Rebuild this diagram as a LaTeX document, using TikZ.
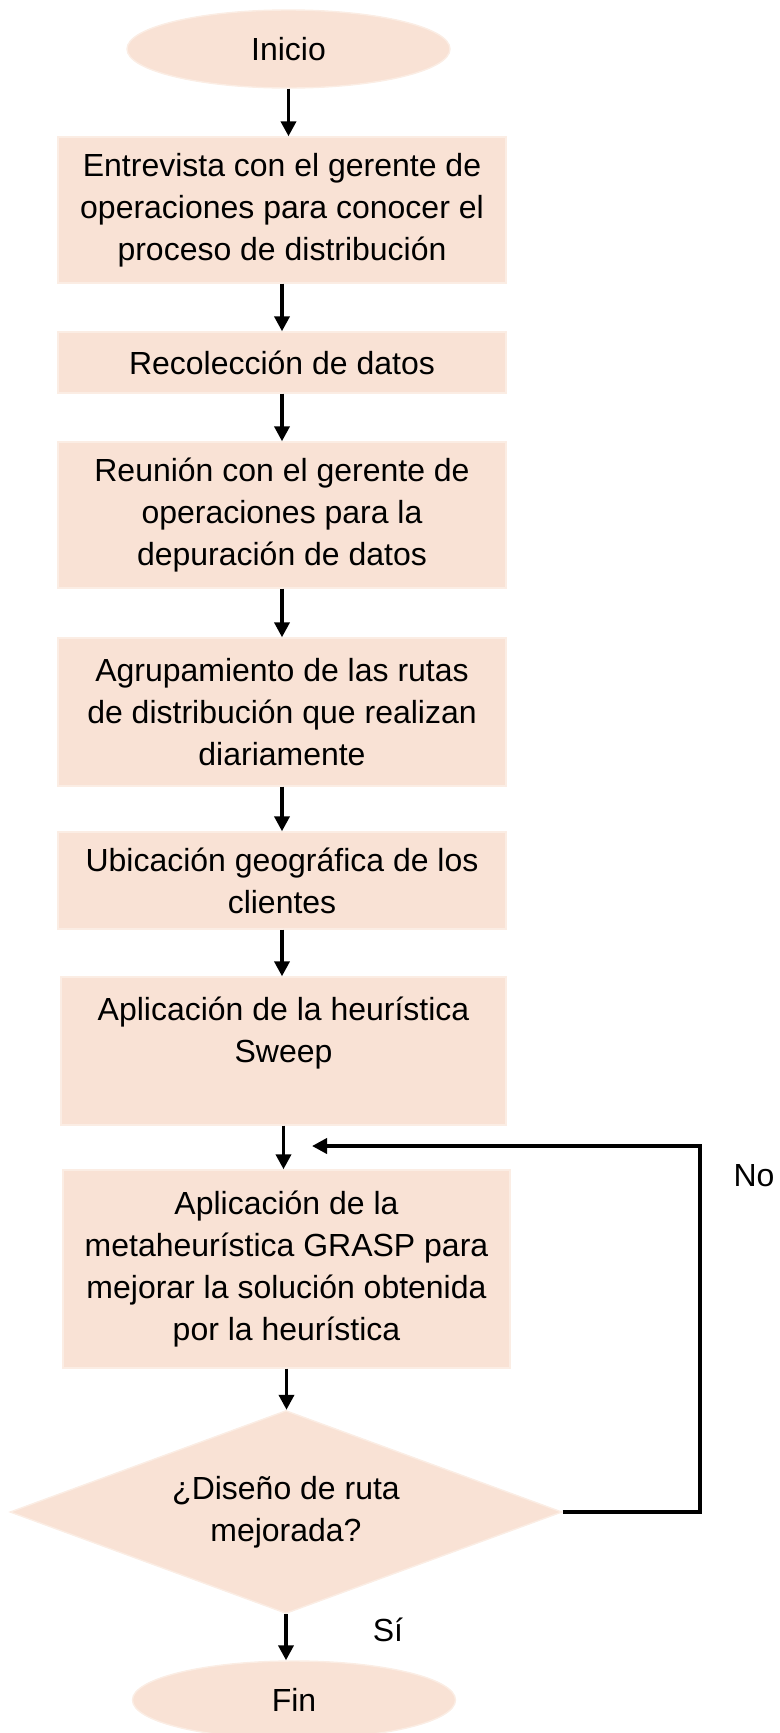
\documentclass[tikz,border=0pt]{standalone}
\usepackage{fontspec}
\setmainfont{Liberation Sans}
\usetikzlibrary{arrows.meta,shapes.geometric}
\definecolor{durazno}{HTML}{F9E2D5}
\definecolor{bordeclaro}{HTML}{FBEDE4}

\begin{document}
\begin{tikzpicture}[
  texto/.style={font=\fontsize{18.2}{24}\selectfont, align=center},
  proceso/.style={texto, rectangle, fill=durazno, draw=bordeclaro, line width=0.8pt, minimum width=8.96cm, inner sep=0pt},
  terminal/.style={texto, ellipse, fill=durazno, draw=bordeclaro, line width=0.8pt, minimum width=6.46cm, minimum height=1.56cm, inner sep=0pt},
  decision/.style={texto, diamond, aspect=2.7, fill=durazno, draw=bordeclaro, line width=0.8pt, minimum width=11.04cm, minimum height=4.06cm, inner sep=0pt},
  flecha/.style={line width=2.1pt, -{Triangle[width=0.3cm,length=0.3cm]}}
]
  \useasboundingbox (0,0) rectangle (15.58,-34.66);

  % Inicio
  \node[terminal] (inicio) at (5.77,-0.98) {Inicio};

  % Pasos
  \node[proceso, minimum height=2.92cm] (entrevista) at (5.64,-4.2)
    {Entrevista con el gerente de\\operaciones para conocer el\\proceso de distribución};
  \node[proceso, minimum height=1.22cm] (datos) at (5.64,-7.25) {Recolección de datos};
  \node[proceso, minimum height=2.92cm] (reunion) at (5.64,-10.3)
    {Reunión con el gerente de\\operaciones para la\\depuración de datos};
  \node[proceso, minimum height=2.96cm] (rutas) at (5.64,-14.24)
    {Agrupamiento de las rutas\\de distribución que realizan\\diariamente};
  \node[proceso, minimum height=1.94cm] (ubicacion) at (5.64,-17.61)
    {Ubicación geográfica de los\\clientes};
  \node[proceso, minimum width=8.9cm, minimum height=2.96cm] (sweep) at (5.67,-21.02)
    {Aplicación de la heurística\\Sweep\\\mbox{}};
  \node[proceso, minimum width=8.94cm, minimum height=3.96cm] (grasp) at (5.73,-25.38)
    {Aplicación de la\\metaheurística GRASP para\\mejorar la solución obtenida\\por la heurística};

  % Decision y fin
  \node[decision] (mejora) at (5.72,-30.24) {¿Diseño de ruta\\mejorada?};
  \node[terminal] (fin) at (5.88,-34.0) {Fin};

  % Flechas
  \draw[flecha] (inicio.south) -- (inicio.south |- entrevista.north);
  \draw[flecha] (entrevista.south) -- (entrevista.south |- datos.north);
  \draw[flecha] (datos.south) -- (datos.south |- reunion.north);
  \draw[flecha] (reunion.south) -- (reunion.south |- rutas.north);
  \draw[flecha] (rutas.south) -- (rutas.south |- ubicacion.north);
  \draw[flecha] (ubicacion.south) -- (ubicacion.south |- sweep.north);
  \draw[flecha] (sweep.south) -- (sweep.south |- grasp.north);
  \draw[flecha] (grasp.south) -- (grasp.south |- mejora.north);
  \draw[flecha] (mejora.south) -- (mejora.south |- fin.north);

  % Retorno (No)
  \coordinate (esquina) at (14.0,-22.92);
  \coordinate (retorno) at (6.24,-22.92);
  \draw[flecha] (mejora.east) -| (esquina) -- (retorno);

  \node[texto] (no) at (15.08,-23.52) {No};
  \node[texto] (si) at (7.76,-32.6) {Sí};
\end{tikzpicture}
\end{document}
